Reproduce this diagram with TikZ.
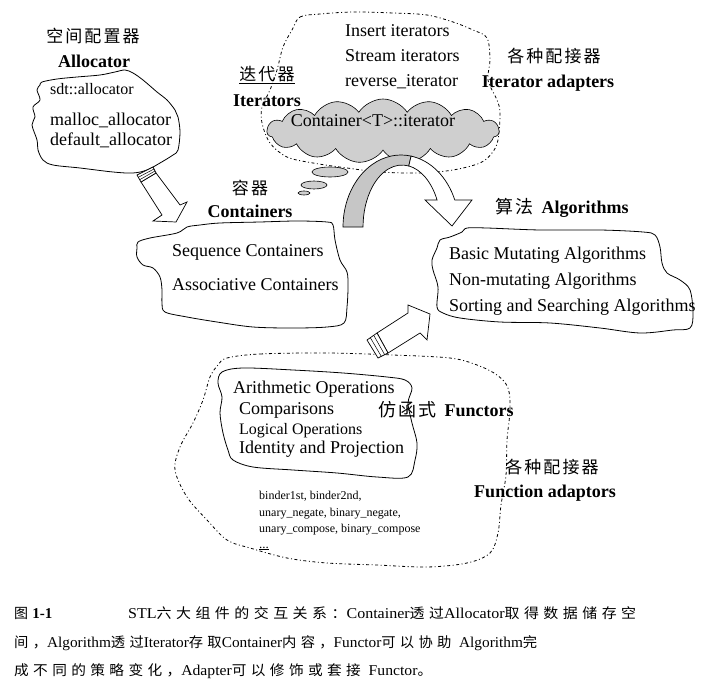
\documentclass[tikz,border=0pt]{standalone}
\usepackage{fontspec}
\usepackage{graphicx}
\setmainfont{Liberation Serif}
\newfontfamily\zhfont[LetterSpace=12]{Noto Sans CJK SC}
\newfontfamily\zhcapfont[LetterSpace=30]{Noto Sans CJK SC}
\newcommand\zh[1]{{\zhfont #1}}
\newcommand\zc[1]{{\fontsize{14}{16}\selectfont\zhcapfont #1}}
\newcommand\capfit[2]{\resizebox{#1}{\height}{#2}}
\usetikzlibrary{shapes.symbols,calc}

\begin{document}
\begin{tikzpicture}[x=1pt, y=-1pt,
        blob/.style={draw=black, line width=0.8pt},
        dotblob/.style={draw=black, line width=0.8pt, dash pattern=on 3pt off 2.5pt on 1pt off 2.5pt},
        entry/.style={anchor=base west, inner sep=0pt, font=\fontsize{18}{20}\selectfont},
        minorentry/.style={entry, font=\fontsize{16}{18}\selectfont},
        tinyentry/.style={entry, font=\fontsize{12}{14}\selectfont},
        heading/.style={anchor=base, inner sep=0pt, font=\fontsize{18}{20}\selectfont\bfseries},
        zhheading/.style={inner sep=0pt, font=\fontsize{17}{20}\selectfont\zhfont},
        blockarrow/.style={draw=black, line width=0.7pt, fill=white, line join=miter},
        capline/.style={anchor=base west, inner sep=0pt, font=\fontsize{15}{17}\selectfont}
    ]
    \useasboundingbox (0,0) rectangle (708,692);

    % Allocator
    \draw[blob] plot[smooth cycle, tension=0.55] coordinates {(40,85) (42,82) (57,79) (77,77) (100,75) (115,72) (125,70) (133,73) (143,80) (157,92) (167,100) (175,110) (178,117) (180,132) (178,150) (173,155) (160,163) (147,170) (133,173) (113,172) (80,168) (53,165) (43,160) (38,150) (37,140) (32,125) (35,117) (33,107) (40,100) (37,90)};
    \node[zhheading] (alloczh) at (93,36) {空间配置器};
    \node[heading] (alloctitle) at (94,68) {Allocator};
    \node[minorentry] (sdtalloc) at (50,95) {sdt::allocator};
    \node[entry] (mallocalloc) at (50,126) {malloc\_allocator};
    \node[entry] (defaultalloc) at (50,146) {default\_allocator};

    % Iterator adapters and iterators
    \draw[dotblob] plot[smooth cycle, tension=0.55] coordinates {(292,30) (300,17) (320,14) (353,12) (393,13) (427,15) (453,22) (473,30) (487,38) (490,60) (488,80) (497,100) (500,113) (498,140) (492,153) (480,163) (453,170) (420,173) (380,172) (347,168) (313,163) (287,157) (270,143) (262,123) (262,107) (270,90) (277,70) (283,47)};
    \node[entry] (insertit) at (345,37) {Insert iterators};
    \node[entry] (streamit) at (345,62) {Stream iterators};
    \node[entry] (reverseit) at (345,87) {reverse\_iterator};
    \node[zhheading] (iteradzh) at (554,56) {各种配接器};
    \node[heading] (iteradtitle) at (548,88) {Iterator adapters};
    \node[zhheading] (iterzh) at (267,74) {迭代器};
    \draw[line width=0.6pt] ([yshift=-1pt]iterzh.south west) -- ([yshift=-1pt]iterzh.south east);
    \node[heading] (itertitle) at (267,107) {Iterators};

    \node[cloud, cloud puffs=15, cloud puff arc=115, cloud ignores aspect, draw=black, line width=0.6pt, fill=gray!38, minimum width=232pt, minimum height=64pt, inner sep=0pt] (itercloud) at (383,131) {};
    \node[entry, anchor=base, font=\fontsize{18}{20}\selectfont] (itertext) at (373,127) {Container<T>::iterator};
    \draw[blob, line width=0.6pt, fill=gray!38] (330,172) ellipse [x radius=18, y radius=5];
    \draw[blob, line width=0.6pt, fill=gray!38] (314,185) ellipse [x radius=13, y radius=4];
    \draw[blob, line width=0.6pt, fill=gray!38] (304,193) ellipse [x radius=6, y radius=2];

    % curved arrow: iterators to algorithms
    \draw[blockarrow, fill=gray!45] (343,227) arc[start angle=180, end angle=280, x radius=58, y radius=72]
        -- (408.8,166) arc[start angle=280, end angle=180, x radius=39, y radius=62] -- cycle;
    \draw[blockarrow] (411.1,156.1) arc[start angle=280, end angle=338, x radius=58, y radius=72]
        -- (472,200) -- (452,226) -- (425,200) -- (437.1,200)
        arc[start angle=334.2, end angle=280, x radius=39, y radius=62] -- cycle;

    % Containers
    \draw[blob] plot[smooth cycle, tension=0.55] coordinates {(138,242) (150,238) (177,233) (187,227) (200,225) (220,223) (260,222) (297,221) (327,222) (333,225) (335,240) (340,260) (347,272) (348,287) (347,307) (344,323) (327,327) (293,328) (253,327) (217,322) (187,317) (165,312) (162,303) (162,290) (160,277) (153,268) (143,265) (137,257) (137,248)};
    \node[zhheading] (contzh) at (250,188) {容器};
    \node[heading] (conttitle) at (250,218) {Containers};
    \node[entry] (seqcont) at (172,256) {Sequence Containers};
    \node[entry] (assoccont) at (172,290) {Associative Containers};

    % Allocator -> Containers
    \draw[blockarrow] (141,182) -- (162,215) -- (153,221) -- (176,222) -- (187,202) -- (180,205) -- (156,173) -- cycle;
    \draw[blockarrow] (137,175) -- (153,167) -- (156,173) -- (141,182) -- cycle;
    \draw[line width=0.5pt] (138.3,177.3) -- (154,169) (139.7,179.7) -- (155,171);

    % Algorithms
    \draw[blob] plot[smooth cycle, tension=0.55] coordinates {(450,237) (462,232) (467,228) (487,228) (540,230) (600,230) (643,232) (655,235) (660,247) (662,263) (667,273) (680,280) (690,290) (693,313) (690,328) (673,330) (640,333) (600,328) (550,323) (500,322) (460,318) (443,313) (437,307) (438,287) (433,270) (432,260) (437,248) (440,240)};
    \node[entry] (algtitle) at (495,214) {\zh{算法}\hspace{6pt}\textbf{Algorithms}};
    \node[entry] (mutalg) at (449,259) {Basic Mutating Algorithms};
    \node[entry] (nonmutalg) at (449,285) {Non-mutating Algorithms};
    \node[entry] (sortalg) at (449,311) {Sorting and Searching Algorithms};

    % Functors and function adaptors
    \draw[dotblob] plot[smooth cycle, tension=0.55] coordinates {(227,358) (260,354) (327,353) (393,355) (450,358) (477,365) (497,375) (508,388) (510,410) (507,440) (506,475) (501,505) (498,533) (490,553) (467,563) (427,567) (377,565) (327,563) (287,558) (250,548) (227,540) (207,520) (187,497) (175,470) (180,447) (193,423) (203,400) (210,377) (218,365)};
    \draw[blob] plot[smooth cycle, tension=0.55] coordinates {(222,372) (243,368) (293,370) (343,373) (387,377) (405,380) (412,388) (408,403) (412,423) (417,443) (415,460) (408,477) (377,477) (337,473) (293,470) (253,467) (233,460) (228,450) (223,433) (220,413) (222,397) (218,383)};
    \node[entry] (arithop) at (233,393) {Arithmetic Operations};
    \node[entry] (compop) at (239,414) {Comparisons};
    \node[minorentry] (logicop) at (239,434) {Logical Operations};
    \node[entry] (identop) at (239,453) {Identity and Projection};
    \node[entry] (functitle) at (378,416) {\zh{仿函式}\hspace{6pt}\textbf{Functors}};
    \node[zhheading] (funcadzh) at (552,467) {各种配接器};
    \node[heading] (funcadtitle) at (545,497) {Function adaptors};
    \node[tinyentry] (binders) at (259,499) {binder1st, binder2nd,};
    \node[tinyentry] (negates) at (259,516) {unary\_negate, binary\_negate,};
    \node[tinyentry] (composes) at (259,532) {unary\_compose, binary\_compose};
    \node[tinyentry, font=\fontsize{13}{14}\selectfont] (moreadapt) at (259,548) {\underline{...}};

    % Functors -> Algorithms
    \draw[blockarrow] (377,333) -- (408,313) -- (408,305) -- (430,314) -- (427,340) -- (420,333) -- (388,353) -- cycle;
    \draw[blockarrow] (367,340) -- (377,333) -- (388,353) -- (378,358) -- cycle;
    \draw[line width=0.5pt] (370.3,337.7) -- (381.3,356.3) (373.7,335.3) -- (384.7,354.7);

    % caption
    \node[capline] (capnum) at (14,618) {\zc{图}\textbf{1-1}};
    \node[capline] (capfirst) at (128,618) {\capfit{508pt}{STL\zc{六大组件的交互关系：}Container\zc{透过}Allocator\zc{取得数据储存空}}};
    \node[capline] (capsecond) at (14,647) {\capfit{523pt}{\zc{间，}Algorithm\zc{透过}Iterator\zc{存取}Container\zc{内容，}Functor\zc{可以协助}\ \ Algorithm\zc{完}}};
    \node[capline] (capthird) at (14,675) {\capfit{418pt}{\zc{成不同的策略变化，}Adapter\zc{可以修饰或套接}\ \ Functor\zc{。}}};
\end{tikzpicture}
\end{document}
